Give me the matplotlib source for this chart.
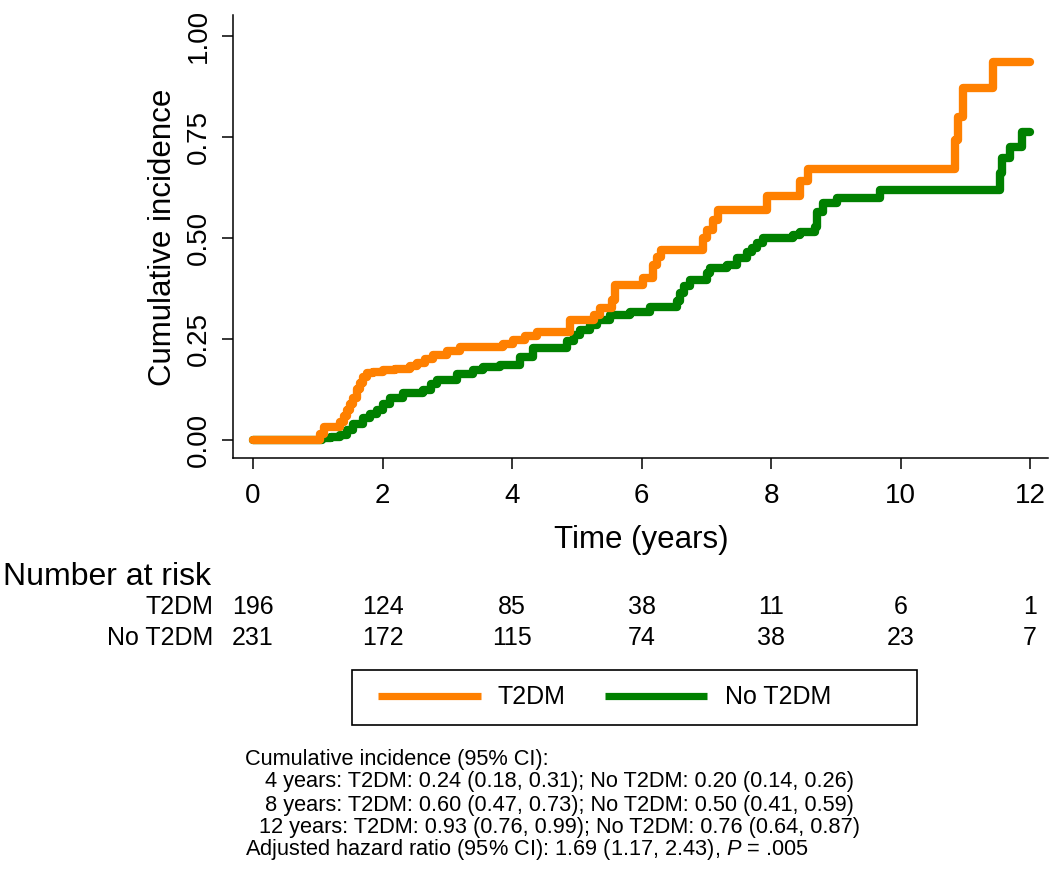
import matplotlib
matplotlib.use("Agg")
import matplotlib.pyplot as plt
from matplotlib.lines import Line2D
from matplotlib.patches import Rectangle
from matplotlib.transforms import blended_transform_factory

plt.rcParams['font.family'] = ['Liberation Sans', 'DejaVu Sans']
plt.rcParams['mathtext.fontset'] = 'custom'
plt.rcParams['mathtext.rm'] = 'Liberation Sans'
plt.rcParams['mathtext.it'] = 'Liberation Sans:italic'

# ---------------- data ----------------
t2dm_time = [0, 1.03, 1.10, 1.34, 1.40, 1.45, 1.50, 1.55, 1.60, 1.65,
             1.70, 1.76, 1.85, 2.00, 2.20, 2.43, 2.53, 2.65, 2.78, 3.00,
             3.20, 3.86, 4.02, 4.20, 4.38, 4.90, 5.26, 5.36, 5.54, 5.59,
             6.03, 6.18, 6.24, 6.30, 6.95, 7.01, 7.10, 7.18, 7.94, 8.45,
             8.57, 10.84, 10.89, 10.97, 11.43, 12.0]
t2dm_ci = [0, 0.015, 0.032, 0.045, 0.06, 0.075, 0.09, 0.105, 0.125, 0.14,
           0.155, 0.165, 0.168, 0.172, 0.176, 0.183, 0.19, 0.20, 0.21, 0.22,
           0.23, 0.238, 0.248, 0.258, 0.267, 0.298, 0.31, 0.327, 0.347, 0.383,
           0.40, 0.433, 0.453, 0.47, 0.50, 0.52, 0.545, 0.57, 0.605, 0.64,
           0.672, 0.743, 0.80, 0.872, 0.935, 0.935]

no_t2dm_time = [0, 1.07, 1.20, 1.34, 1.45, 1.55, 1.70, 1.80, 1.91, 2.00,
                2.12, 2.32, 2.63, 2.75, 2.84, 3.15, 3.40, 3.55, 3.81, 4.12,
                4.33, 4.85, 4.95, 5.05, 5.20, 5.31, 5.51, 5.82, 6.13, 6.55,
                6.59, 6.65, 6.75, 7.01, 7.06, 7.32, 7.47, 7.63, 7.70, 7.78,
                7.88, 8.34, 8.45, 8.68, 8.71, 8.80, 9.02, 9.68, 11.54, 11.57,
                11.69, 11.88, 12.0]
no_t2dm_ci = [0, 0.004, 0.008, 0.012, 0.025, 0.04, 0.054, 0.065, 0.074, 0.088,
              0.104, 0.116, 0.124, 0.138, 0.149, 0.163, 0.172, 0.18, 0.186, 0.205,
              0.228, 0.245, 0.26, 0.272, 0.285, 0.297, 0.31, 0.317, 0.33, 0.345,
              0.364, 0.38, 0.396, 0.413, 0.425, 0.433, 0.45, 0.465, 0.475, 0.487,
              0.50, 0.508, 0.515, 0.527, 0.565, 0.586, 0.60, 0.619, 0.66, 0.698,
              0.725, 0.762, 0.762]

risk_times = [0, 2, 4, 6, 8, 10, 12]
risk_t2dm = [196, 124, 85, 38, 11, 6, 1]
risk_no_t2dm = [231, 172, 115, 74, 38, 23, 7]

group_labels = ["T2DM", "No T2DM"]
colors = ["#FF8000", "#008000"]

x_ticks = [0, 2, 4, 6, 8, 10, 12]
y_ticks = [0.0, 0.25, 0.50, 0.75, 1.00]
y_ticklabels = ["0.00", "0.25", "0.50", "0.75", "1.00"]

summary_lines = [
    "Cumulative incidence (95% CI):",
    "4 years: T2DM: 0.24 (0.18, 0.31); No T2DM: 0.20 (0.14, 0.26)",
    "8 years: T2DM: 0.60 (0.47, 0.73); No T2DM: 0.50 (0.41, 0.59)",
    "12 years: T2DM: 0.93 (0.76, 0.99); No T2DM: 0.76 (0.64, 0.87)",
    "Adjusted hazard ratio (95% CI): 1.69 (1.17, 2.43), $\\mathit{P}$ = .005",
]

# ---------------- figure ----------------
W, H = 1050, 883
fig = plt.figure(figsize=(W / 100, H / 100), dpi=100)

def fx(px):
    return px / W

def fy(py):
    return 1 - py / H

ax = fig.add_axes([fx(233), fy(458), fx(1048) - fx(233), fy(15) - fy(458)])

lw = 6.0
ax.step(no_t2dm_time, no_t2dm_ci, where='post', color=colors[1], lw=lw,
        solid_capstyle='round', solid_joinstyle='round')
ax.step(t2dm_time, t2dm_ci, where='post', color=colors[0], lw=lw,
        solid_capstyle='round', solid_joinstyle='round')

ax.set_xlim(-0.309, 12.278)
ax.set_ylim(-0.0446, 1.052)
ax.set_xticks(x_ticks)
ax.set_xticklabels([str(v) for v in x_ticks])
ax.set_yticks(y_ticks)
ax.set_yticklabels(y_ticklabels, rotation=90, va='center')

for s in ['top', 'right']:
    ax.spines[s].set_visible(False)
for s in ['left', 'bottom']:
    ax.spines[s].set_linewidth(1.1)

ax.tick_params(axis='both', direction='out', length=8, width=1.1,
               labelsize=20, colors='black')
ax.tick_params(axis='x', pad=10)
ax.tick_params(axis='y', pad=7)

fig.text(fx(163), fy(237), "Cumulative incidence", rotation=90,
         ha='center', va='center', fontsize=22.5)
fig.text(fx(641), fy(540), "Time (years)", ha='center', va='center',
         fontsize=22.5)

# ---------------- number at risk ----------------
fig.text(fx(3), fy(577), "Number at risk", ha='left', va='center', fontsize=23)
row_y = [607, 638]
trans = blended_transform_factory(ax.transData, fig.transFigure)
for lab, vals, ry in zip(group_labels, [risk_t2dm, risk_no_t2dm], row_y):
    fig.text(fx(213), fy(ry), lab, ha='right', va='center', fontsize=18)
    for t, v in zip(risk_times, vals):
        ax.text(t, fy(ry), str(v), transform=trans, ha='center',
                va='center', fontsize=18, clip_on=False)

# ---------------- legend ----------------
fig.patches.append(Rectangle((fx(352), fy(725)), fx(917) - fx(352),
                             fy(670) - fy(725), transform=fig.transFigure,
                             fill=False, edgecolor='black', linewidth=1.2))
handles = [Line2D([], [], color=c, lw=5.2, solid_capstyle='butt') for c in colors]
leg = fig.legend(handles, group_labels, loc='center left',
                 bbox_to_anchor=(fx(378), fy(697.5)), ncol=2,
                 fontsize=18, handlelength=4.1, handletextpad=0.7,
                 columnspacing=1.55, borderpad=0.0, borderaxespad=0.0,
                 frameon=False)

# ---------------- summary text ----------------
line_y = [760, 782, 805, 827, 849]
line_x = [245, 265, 265, 259, 245]
for txt, lx, ly in zip(summary_lines, line_x, line_y):
    fig.text(fx(lx), fy(ly), txt, ha='left', va='center', fontsize=15.7)

fig.savefig("out.png", dpi=100)
